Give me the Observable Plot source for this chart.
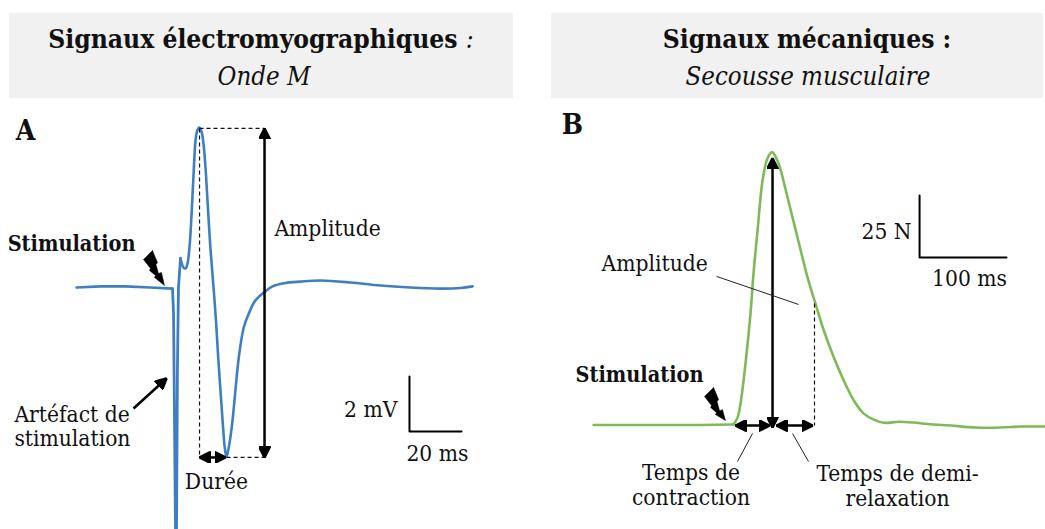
<!DOCTYPE html>
<html lang="fr">
<head>
<meta charset="utf-8">
<script src="https://cdn.jsdelivr.net/npm/d3@7"></script>
<script src="https://cdn.jsdelivr.net/npm/@observablehq/plot@0.6"></script>
<style>
  html, body { margin: 0; padding: 0; background: #fff; }
  #page { position: relative; width: 1045px; height: 529px; overflow: hidden; font-family: "DejaVu Serif Condensed", "DejaVu Serif", serif; font-stretch: condensed; color: #111; }
  .head { position: absolute; top: 13px; height: 85px; background: #f1f1f1; text-align: center; }
  .head .t { position: absolute; left: 0; right: 0; top: 9px; font-size: 26.2px; font-weight: bold; line-height: 34px; white-space: nowrap; }
  .head .s { position: absolute; left: 0; right: 0; top: 46px; font-size: 25.6px; font-style: italic; line-height: 34px; white-space: nowrap; }
  .head .t i { font-weight: normal; }
  .panel { position: absolute; top: 100px; }
  .panel svg { overflow: visible; display: block; background: transparent; }
</style>
</head>
<body>
<div id="page">
  <div class="head" style="left:9px;width:504px"><div class="t">Signaux électromyographiques <i>:</i></div><div class="s" style="left:6px">Onde M</div></div>
  <div class="head" style="left:551px;width:492px"><div class="t" style="left:20px">Signaux mécaniques :</div><div class="s" style="left:22px">Secousse musculaire</div></div>
  <div class="panel" id="a" style="left:0"></div>
  <div class="panel" id="b" style="left:525px"></div>
</div>
<script>
// Panel A: EMG trace, M wave (time in ms from the stimulus, amplitude in mV)
const emgBaseMs = [-36.9, -27.7, -18.1, -8.5, 0];
const emgBaseMv = [0, 0.04, 0.04, 0, -0.04];
const artefactMs = [0, 0.4, 1.15, 1.55, 1.9, 2.3, 3.08];
const artefactMv = [-0.04, -0.9, -8.64, -8.64, -2.9, 0, 1.04];
const waveMs = [3.08, 4.23, 5, 5.77, 6.54, 7.31, 8.08, 8.85, 9.42, 10.27, 11.15, 11.92, 12.69, 13.46, 14.6, 15.88, 16.8, 17.58, 18.46, 19.35, 20.1, 20.77, 21.65, 22.96, 24.2, 25.5, 27.4, 29.35, 31.9, 35.1, 38.46, 43.46, 49.2, 56.9, 68.5, 80, 91.5, 103, 110.8, 115.4];
const waveMv = [1.04, 0.71, 0.68, 0.86, 1.43, 2.57, 4, 5.25, 5.57, 5.71, 5.57, 5.14, 4.29, 3.11, 1.39, -0.11, -1.29, -2.5, -3.68, -4.86, -5.71, -6.05, -5.71, -4.86, -3.68, -2.5, -1.43, -0.93, -0.46, -0.18, 0.04, 0.16, 0.21, 0.25, 0.18, 0.07, 0, -0.04, -0.02, 0.04];

// Panel B: muscle twitch (time in ms from the stimulus, force in N)
const restMs = [-159, -94.3, -37.5, 0];
const restN = [-0.2, -0.2, -0.2, 0];
const twitchMs = [0, 4.5, 8, 13.6, 19.3, 22.7, 27.3, 33, 38.6, 44, 51.1, 61.4, 72.7, 84.1, 92, 102.6, 114, 125.3, 136.7, 148, 159.4, 170.8, 187.8, 204.5, 223.9, 246.6, 275, 303.4, 326, 353.4];
const twitchN = [0, 2.8, 8.5, 24.6, 44.8, 60.9, 78.2, 98.4, 107.3, 109.8, 105.2, 91.5, 75.4, 59.3, 50, 37.9, 27, 17.7, 9.7, 4.4, 2, 0.7, 1.1, 0.8, 0.1, -0.4, -1.2, -1.2, -0.8, -0.8];

// Stimulation bolts, in the units of each panel
const boltAMs = [-7.69, -11.15, -8.46, -8.85, -6.54, -6.92, -3.08, -4.23, -5.38, -6.35, -5.77, -7.69];
const boltAMv = [1.32, 1.0, 0.68, 0.61, 0.43, 0.36, 0.07, 0.54, 0.5, 0.82, 0.89, 1.32];
const boltBMs = [-22.7, -33, -25, -26.1, -19.3, -20.5, -9.1, -12.5, -15.9, -18.75, -17, -22.7];
const boltBN = [14.9, 11.3, 7.7, 6.9, 4.8, 4.0, 1.6, 6.0, 5.6, 9.3, 10.1, 14.9];

const zip = (xs, ys) => xs.map((x, i) => ({x, y: ys[i]}));
const blue = "#3f7fc1", green = "#7fb95a", ink = "#111";

function solidHead(color, context) {
  const ns = "http://www.w3.org/2000/svg";
  const m = context.document.createElementNS(ns, "marker");
  m.setAttribute("viewBox", "-11 -6 12 12");
  m.setAttribute("markerUnits", "userSpaceOnUse");
  m.setAttribute("markerWidth", 12);
  m.setAttribute("markerHeight", 12);
  m.setAttribute("orient", "auto-start-reverse");
  const p = context.document.createElementNS(ns, "path");
  p.setAttribute("d", "M-11,-5.5L0,0L-11,5.5z");
  p.setAttribute("fill", color);
  m.appendChild(p);
  return m;
}
const seg = (x1, y1, x2, y2) => ({x1, y1, x2, y2});
const lab = (x, y, text, o = {}) => Plot.text([{x, y, text}], {x: "x", y: "y", text: "text", fill: ink, fontSize: 22.6, lineAnchor: "middle", ...o});
const bold = (x, y, text) => lab(x, y, text, {textAnchor: "start", fontWeight: "bold", fontSize: 21.5});
const base = (width, xd, yd) => ({
  width, height: 429, marginLeft: 0, marginRight: 0, marginTop: 0, marginBottom: 0,
  x: {domain: xd, axis: null}, y: {domain: yd, axis: null},
  style: {fontFamily: "'DejaVu Serif Condensed', 'DejaVu Serif', serif", fontStretch: "condensed", background: "transparent"}
});

document.getElementById("a").append(Plot.plot({
  ...base(525, [-66.15, 135.77], [-8.643, 6.679]),
  marks: [
    Plot.line(zip(emgBaseMs, emgBaseMv), {x: "x", y: "y", stroke: blue, strokeWidth: 2.6}),
    Plot.line(zip(artefactMs, artefactMv), {x: "x", y: "y", stroke: blue, strokeWidth: 2.8}),
    Plot.line(zip(waveMs, waveMv), {x: "x", y: "y", curve: "catmull-rom", stroke: blue, strokeWidth: 2.6}),
    Plot.link([seg(10.4, 5.68, 35.4, 5.68), seg(10.4, 5.68, 10.4, -6.07), seg(20.8, -6.07, 35.4, -6.07)],
      {x1: "x1", y1: "y1", x2: "x2", y2: "y2", stroke: ink, strokeWidth: 1.2, strokeDasharray: "4,3"}),
    Plot.link([seg(35.4, 5.68, 35.4, -6.07)], {x1: "x1", y1: "y1", x2: "x2", y2: "y2", stroke: "#000", strokeWidth: 2.5, markerStart: solidHead, markerEnd: solidHead}),
    Plot.link([seg(10.4, -6.07, 20.4, -6.07)], {x1: "x1", y1: "y1", x2: "x2", y2: "y2", stroke: "#000", strokeWidth: 2.5, markerStart: solidHead, markerEnd: solidHead}),
    Plot.link([seg(-15, -4.32, -2.3, -3.25)], {x1: "x1", y1: "y1", x2: "x2", y2: "y2", stroke: "#000", strokeWidth: 2.5, markerEnd: solidHead}),
    Plot.line([{x: 91.15, y: -3.18}, {x: 91.15, y: -5.14}, {x: 111.15, y: -5.14}], {x: "x", y: "y", stroke: "#000", strokeWidth: 2}),
    Plot.line(zip(boltAMs, boltAMv), {x: "x", y: "y", fill: "#000", stroke: "#000", strokeWidth: 0.5}),
    lab(-56.5, 5.6, "A", {fontSize: 28, fontWeight: "bold"}),
    bold(-63.4, 1.54, "Stimulation"),
    lab(39.2, 2.11, "Amplitude", {textAnchor: "start"}),
    lab(-60.8, -4.54, "Artéfact de", {textAnchor: "start"}),
    lab(-60.8, -5.39, "stimulation", {textAnchor: "start"}),
    lab(16.9, -6.93, "Durée"),
    lab(86.5, -4.36, "2 mV", {textAnchor: "end"}),
    lab(101.9, -5.93, "20 ms")
  ]
}));

document.getElementById("b").append(Plot.plot({
  ...base(520, [-236.4, 354.5], [-42.3, 130.6]),
  marks: [
    Plot.line(zip(restMs, restN), {x: "x", y: "y", stroke: green, strokeWidth: 2.6}),
    Plot.line(zip(twitchMs, twitchN), {x: "x", y: "y", curve: "catmull-rom", stroke: green, strokeWidth: 2.6}),
    Plot.link([seg(92, 48.8, 92, -0.4)], {x1: "x1", y1: "y1", x2: "x2", y2: "y2", stroke: ink, strokeWidth: 1.2, strokeDasharray: "4,3"}),
    Plot.link([seg(44.3, 107.3, 44.3, -1.2), seg(2.3, -0.4, 40.9, -0.4), seg(48.9, -0.4, 89.8, -0.4)],
      {x1: "x1", y1: "y1", x2: "x2", y2: "y2", stroke: "#000", strokeWidth: 2.5, markerStart: solidHead, markerEnd: solidHead}),
    Plot.link([seg(-19.3, 59.7, 73.9, 48.4), seg(21.6, -3.6, 4.5, -14.9), seg(67, -3.6, 85.2, -14.9)],
      {x1: "x1", y1: "y1", x2: "x2", y2: "y2", stroke: "#222", strokeWidth: 1}),
    Plot.line([{x: 211.4, y: 92.3}, {x: 211.4, y: 67.3}, {x: 310.2, y: 67.3}], {x: "x", y: "y", stroke: "#000", strokeWidth: 2}),
    Plot.line(zip(boltBMs, boltBN), {x: "x", y: "y", fill: "#000", stroke: "#000", strokeWidth: 0.5}),
    lab(-183, 120.6, "B", {fontSize: 28, fontWeight: "bold"}),
    bold(-179.5, 19.8, "Stimulation"),
    lab(-150, 64.9, "Amplitude", {textAnchor: "start"}),
    lab(202.3, 77.8, "25 N", {textAnchor: "end"}),
    lab(268.2, 58.9, "100 ms"),
    lab(-48.3, -19.4, "Temps de"),
    lab(-48.3, -29.4, "contraction"),
    lab(186.4, -19.8, "Temps de demi-"),
    lab(186.4, -29.8, "relaxation")
  ]
}));
</script>
</body>
</html>
